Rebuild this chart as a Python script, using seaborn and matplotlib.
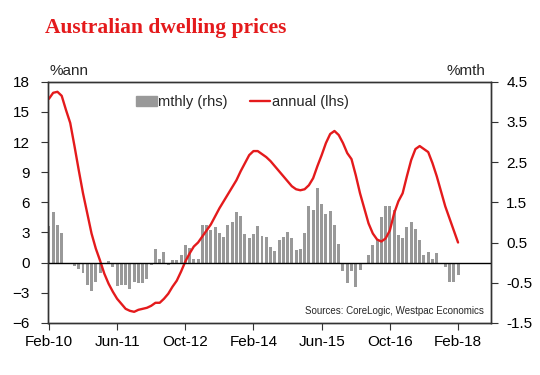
import matplotlib
matplotlib.use("Agg")
import matplotlib.pyplot as plt
from matplotlib.patches import Patch
from matplotlib.lines import Line2D
import pandas as pd
import seaborn as sns

# monthly observations, Feb-10 .. Feb-18
months = pd.date_range("2010-02-01", "2018-02-01", freq="MS")
tick_labels = ["Feb-10", "Jun-11", "Oct-12", "Feb-14", "Jun-15", "Oct-16", "Feb-18"]

mthly = [0.91, 1.27, 0.93, 0.73, 0.0, -0.04, -0.08, -0.15, -0.25, -0.55,
         -0.71, -0.48, -0.27, 0.0, 0.03, -0.12, -0.58, -0.55, -0.55, -0.65,
         -0.48, -0.5, -0.5, -0.4, -0.07, 0.35, 0.1, 0.27, -0.05, 0.06,
         0.06, 0.18, 0.43, 0.37, 0.08, 0.08, 0.93, 0.93, 0.8, 0.88,
         0.74, 0.63, 0.93, 1.0, 1.27, 1.17, 0.72, 0.61, 0.72, 0.9,
         0.66, 0.63, 0.39, 0.28, 0.57, 0.63, 0.75, 0.61, 0.32, 0.35,
         0.74, 1.4, 1.32, 1.85, 1.45, 1.2, 1.29, 0.93, 0.46, -0.2,
         -0.5, -0.2, -0.61, -0.19, 0.0, 0.2, 0.45, 0.57, 1.14, 1.4,
         1.4, 1.3, 0.69, 0.62, 0.88, 1.02, 0.83, 0.57, 0.2, 0.26,
         0.1, 0.25, -0.02, -0.12, -0.48, -0.48, -0.3]

annual = [16.3, 16.9, 17.0, 16.6, 15.2, 13.9, 11.6, 9.2, 6.9, 4.9,
          2.9, 1.4, 0.2, -1.1, -2.1, -2.9, -3.6, -4.1, -4.6, -4.8,
          -4.9, -4.7, -4.6, -4.5, -4.3, -4.0, -4.0, -3.6, -3.1, -2.4,
          -1.8, -0.9, 0.1, 0.9, 1.6, 2.0, 2.6, 3.2, 3.8, 4.6,
          5.4, 6.1, 6.8, 7.5, 8.2, 9.1, 9.9, 10.7, 11.1, 11.1,
          10.8, 10.5, 10.1, 9.6, 9.1, 8.6, 8.1, 7.6, 7.3, 7.2,
          7.3, 7.7, 8.4, 9.6, 10.7, 11.9, 12.8, 13.1, 12.7, 11.9,
          10.9, 10.3, 8.7, 6.9, 5.4, 3.9, 2.9, 2.3, 2.1, 2.4,
          3.2, 4.9, 6.1, 6.9, 8.6, 10.2, 11.3, 11.6, 11.3, 11.0,
          9.9, 8.6, 7.1, 5.6, 4.4, 3.2, 2.0]

df = pd.DataFrame({"idx": range(len(months)), "mthly": mthly, "annual": annual})

sns.set_style("ticks")
plt.rcParams["font.family"] = ["Liberation Sans", "DejaVu Sans"]

red = "#e41a1c"
grey = "#999999"
dark = "#333333"

fig = plt.figure(figsize=(5.4, 3.75), dpi=100)
ax = fig.add_axes([0.089, 0.139, 0.82, 0.643])
ax2 = ax.twinx()

# bars (rhs)
sns.barplot(data=df, x="idx", y="mthly", native_scale=True, color=grey,
            width=0.7, saturation=1, linewidth=0, ax=ax2)
# line (lhs)
sns.lineplot(data=df, x="idx", y="annual", color=red, linewidth=1.7, ax=ax)

ax.set_zorder(ax2.get_zorder() + 1)
ax.patch.set_visible(False)

ax.axhline(0, color="black", linewidth=1)

ax.set_xlim(-0.2, 103.7)
ax.set_ylim(-6, 18)
ax.set_yticks(range(-6, 19, 3))
ax2.set_ylim(-1.5, 4.5)
ax2.set_yticks([-1.5, -0.5, 0.5, 1.5, 2.5, 3.5, 4.5])
ax2.set_yticklabels(["-1.5", "-0.5", "0.5", "1.5", "2.5", "3.5", "4.5"])
ax.set_xticks(range(0, 97, 16))
ax.set_xticklabels(tick_labels)

for a in (ax, ax2):
    a.set_xlabel("")
    a.set_ylabel("")
    for s in a.spines.values():
        s.set_visible(True)
        s.set_color(dark)
        s.set_linewidth(1)
    a.tick_params(labelsize=11, colors="black", length=5, color=dark)
ax.tick_params(axis="y", pad=8)
ax2.tick_params(axis="y", pad=6)

fig.text(0.083, 0.925, "Australian dwelling prices", color=red,
         fontsize=15.5, fontweight="bold", family="Liberation Serif", va="center")
fig.text(0.092, 0.81, "%ann", fontsize=11, va="center")
fig.text(0.898, 0.81, "%mth", fontsize=11, va="center", ha="right")
ax.text(0.985, 0.05, "Sources: CoreLogic, Westpac Economics", fontsize=7,
        transform=ax.transAxes, ha="right", va="center")

handles = [Patch(color=grey), Line2D([], [], color=red, linewidth=1.7)]
ax.legend(handles, ["mthly (rhs)", "annual (lhs)"], loc="upper left",
          bbox_to_anchor=(0.17, 1.0), ncol=2, frameon=False, fontsize=10.5,
          handlelength=1.4, handletextpad=0.1, columnspacing=1.5)

fig.savefig("out.png", dpi=100)
